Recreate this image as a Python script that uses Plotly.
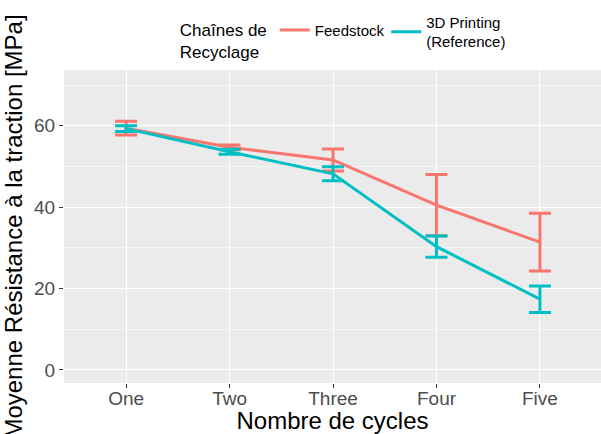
import plotly.graph_objects as go

cycles = ["One", "Two", "Three", "Four", "Five"]
feedstock_mean = [59.4, 54.7, 51.6, 40.5, 31.4]
feedstock_err = [1.7, 0.6, 2.7, 7.5, 7.1]
printing_mean = [59.3, 53.6, 48.2, 30.3, 17.4]
printing_err = [0.7, 0.6, 1.7, 2.6, 3.25]

series_names = ["Feedstock", "3D Printing<br>(Reference)"]
colors = ["#F8766D", "#00BFC4"]
legend_ids = ["legend", "legend2"]

fig = go.Figure()
for name, mean, err, col, lg in zip(series_names,
                                    [feedstock_mean, printing_mean],
                                    [feedstock_err, printing_err], colors, legend_ids):
    fig.add_trace(go.Scatter(
        x=cycles, y=mean, name=name, mode="lines",
        line=dict(color=col, width=3),
        error_y=dict(type="data", array=err, visible=True,
                     color=col, thickness=3, width=11),
        legend=lg,
    ))

fig.update_layout(
    width=601, height=434,
    margin=dict(l=64, r=0, t=70, b=51),
    paper_bgcolor="white",
    plot_bgcolor="#EBEBEB",
    font=dict(family="Liberation Sans, Arial, sans-serif", color="black"),
    showlegend=True,
    legend=dict(
        orientation="h", x=0.212, xanchor="left", y=1.18, yanchor="top",
        title=dict(text="Chaînes de<br>Recyclage", side="left",
                   font=dict(size=17, color="black")),
        font=dict(size=15, color="black"),
        bgcolor="rgba(0,0,0,0)",
        itemwidth=30,
    ),
    legend2=dict(
        orientation="h", x=0.6, xanchor="left", y=1.205, yanchor="top",
        font=dict(size=15, color="black"),
        bgcolor="rgba(0,0,0,0)",
        itemwidth=30,
    ),
    xaxis=dict(
        type="category", range=[-0.6, 4.59],
        showgrid=True, gridcolor="white", gridwidth=1.4,
        zeroline=False, showline=False,
        ticks="outside", ticklen=4, tickcolor="#333333", tickwidth=1,
        tickfont=dict(size=19, color="#4D4D4D"),
        ticklabelstandoff=-6,
        title=dict(text="Nombre de cycles", font=dict(size=24, color="black"), standoff=0),
    ),
    yaxis=dict(
        range=[-3.2, 73.7], tickvals=[0, 20, 40, 60], ticktext=["0", "20", "40", "60"],
        showgrid=True, gridcolor="white", gridwidth=1.4,
        minor=dict(dtick=10, tick0=0, showgrid=True, gridcolor="#F7F7F7", gridwidth=0.7),
        zeroline=False, showline=False,
        ticks="outside", ticklen=4, tickcolor="#333333", tickwidth=1,
        tickfont=dict(size=19, color="#4D4D4D"),
        title=dict(text="Moyenne Résistance à la traction [MPa]",
                   font=dict(size=24, color="black"), standoff=8),
    ),
)

fig.write_html("out.html", config={"displayModeBar": False},
               post_script="document.body.style.margin='0';")
